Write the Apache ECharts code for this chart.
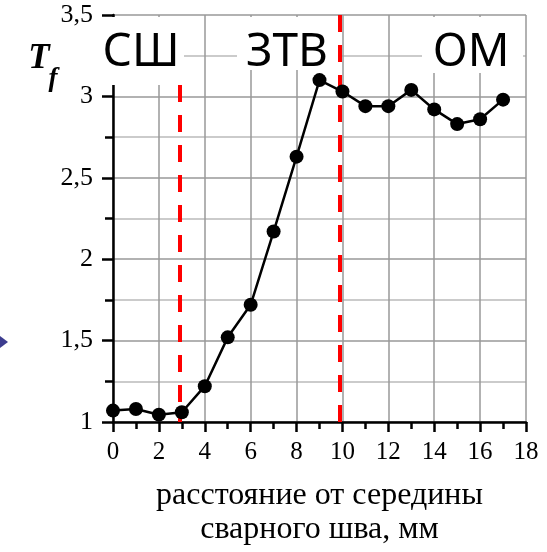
<!DOCTYPE html>
<html>
<head>
<meta charset="utf-8">
<script src="https://cdn.jsdelivr.net/npm/echarts@6/dist/echarts.min.js"></script>
<style>html,body{margin:0;padding:0;background:#fff}#c{width:547px;height:552px}</style>
</head>
<body>
<div id="c"></div>
<script>
const distances = [0,1,2,3,4,5,6,7,8,9,10,11,12,13,14,15,16,17];
const tfValues = [1.07,1.08,1.045,1.06,1.22,1.52,1.72,2.17,2.63,3.10,3.03,2.94,2.94,3.04,2.92,2.83,2.86,2.98];
const zoneBorders = [2.9, 9.9];
const zoneBorderTops = [3.07, 3.5];
const zoneNames = ['СШ', 'ЗТВ', 'ОМ'];
const yTickValues = [1, 1.5, 2, 2.5, 3, 3.5];
const yTickLabels = ['1', '1,5', '2', '2,5', '3', '3,5'];
const xAxisTitle = 'расстояние от середины\nсварного шва, мм';

const serif = 'Liberation Serif';
const chart = echarts.init(document.getElementById('c'), null, {renderer: 'canvas'});

const zoneBoxes = [
  {x: 100, y: 17, w: 84, h: 68, cx: 141},
  {x: 237, y: 17, w: 101, h: 53, cx: 287},
  {x: 422, y: 17, w: 101, h: 56, cx: 471}
];
const graphics = [];
zoneBoxes.forEach((b, i) => {
  graphics.push({type: 'rect', z: 100, shape: {x: b.x, y: b.y, width: b.w, height: b.h}, style: {fill: '#fff'}});
  graphics.push({type: 'text', z: 101, x: b.cx, y: 53, style: {text: zoneNames[i], font: '46px "Noto Sans"', fill: '#000', textAlign: 'center', textVerticalAlign: 'middle'}});
});
graphics.push({type: 'text', z: 101, x: 39, y: 59, style: {text: 'T', font: 'italic bold 35px "Liberation Serif"', fill: '#000', textAlign: 'center', textVerticalAlign: 'middle'}});
graphics.push({type: 'text', z: 101, x: 53, y: 79, style: {text: 'f', font: 'italic bold 27px "Liberation Serif"', fill: '#000', textAlign: 'center', textVerticalAlign: 'middle'}});
graphics.push({type: 'polygon', z: 101, shape: {points: [[0, 336], [8, 342], [0, 348]]}, style: {fill: '#3c3c8f'}});

const option = {
  animation: false,
  backgroundColor: '#fff',
  grid: {left: 113, top: 15, right: 21, bottom: 129, containLabel: false},
  xAxis: {
    type: 'value', min: 0, max: 18, interval: 2,
    name: xAxisTitle, nameLocation: 'middle', nameGap: 57,
    nameTextStyle: {fontFamily: serif, fontSize: 32, lineHeight: 34, color: '#000'},
    axisLine: {show: true, onZero: false, lineStyle: {color: '#000', width: 2.5}},
    axisTick: {show: true, length: 10, lineStyle: {color: '#000', width: 2.5}},
    minorTick: {show: true, splitNumber: 2, length: 7, lineStyle: {color: '#000', width: 2.5}},
    splitLine: {show: true, lineStyle: {color: '#999', width: 1.5}},
    axisLabel: {fontFamily: serif, fontSize: 25, color: '#000', margin: 18}
  },
  yAxis: {
    type: 'value', min: 1, max: 3.5, interval: 0.5,
    axisLine: {show: true, onZero: false, lineStyle: {color: '#000', width: 2.5}},
    axisTick: {show: true, length: 11, lineStyle: {color: '#000', width: 2.5}},
    minorTick: {show: true, splitNumber: 2, length: 8, lineStyle: {color: '#000', width: 2.5}},
    splitLine: {show: true, lineStyle: {color: '#999', width: 1.5}},
    minorSplitLine: {show: true, lineStyle: {color: '#bbb', width: 1.5}},
    axisLabel: {
      fontFamily: serif, fontSize: 26, color: '#000', margin: 20,
      formatter: v => {
        const i = yTickValues.findIndex(t => Math.abs(t - v) < 1e-6);
        return i >= 0 ? yTickLabels[i] : '';
      }
    }
  },
  graphic: graphics,
  series: [{
    type: 'line',
    data: distances.map((d, i) => [d, tfValues[i]]),
    symbol: 'circle', symbolSize: 14,
    itemStyle: {color: '#000'},
    lineStyle: {color: '#000', width: 2.5},
    z: 5,
    markLine: {
      silent: true, symbol: 'none', label: {show: false},
      lineStyle: {color: '#ff0000', width: 4, type: [17, 13]},
      data: zoneBorders.map((x, i) => [{coord: [x, zoneBorderTops[i]]}, {coord: [x, 1]}])
    }
  }]
};
chart.setOption(option);
</script>
</body>
</html>
